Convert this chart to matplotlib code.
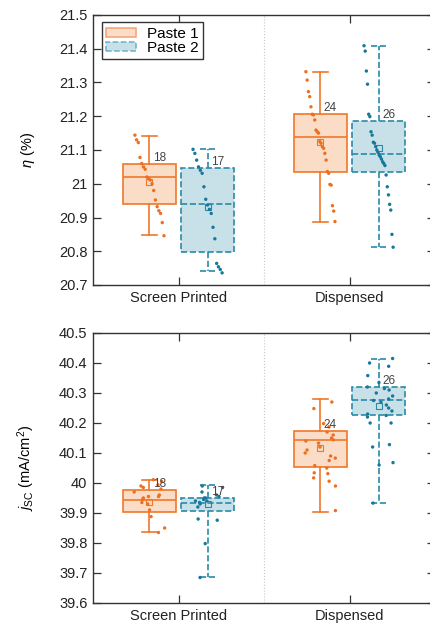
import numpy as np
import matplotlib.pyplot as plt
from matplotlib.patches import Patch

plt.rcParams['font.family'] = ['Liberation Sans', 'DejaVu Sans']
plt.rcParams['font.size'] = 10.5
plt.rcParams['mathtext.fontset'] = 'custom'
plt.rcParams['mathtext.rm'] = 'Liberation Sans'
plt.rcParams['mathtext.it'] = 'Liberation Sans:italic'

categories = ['Screen Printed', 'Dispensed']
series = ['Paste 1', 'Paste 2']

# efficiency (%) - single cell values
eta_sp_p1 = [21.144, 21.13, 21.122, 21.078, 21.06, 21.05, 21.043, 21.02, 21.015, 21.011,
             21.0, 20.98, 20.952, 20.932, 20.92, 20.912, 20.885, 20.846]
eta_sp_p2 = [21.102, 21.09, 21.07, 21.05, 21.04, 21.031, 20.991, 20.954, 20.937, 20.924,
             20.912, 20.871, 20.837, 20.764, 20.754, 20.746, 20.736]
eta_d_p1 = [21.332, 21.307, 21.273, 21.258, 21.228, 21.206, 21.204, 21.189, 21.159, 21.154,
            21.15, 21.125, 21.12, 21.11, 21.105, 21.09, 21.07, 21.036, 21.031, 20.998,
            20.996, 20.935, 20.919, 20.888]
eta_d_p2 = [21.409, 21.393, 21.334, 21.295, 21.206, 21.199, 21.154, 21.144, 21.123, 21.12,
            21.11, 21.1, 21.093, 21.085, 21.08, 21.073, 21.065, 21.06, 21.054, 21.026,
            20.991, 20.967, 20.939, 20.922, 20.85, 20.812]

# box summaries: whislo, q1, median, q3, whishi, mean
eta_stats = {
    ('Screen Printed', 'Paste 1'): [20.848, 20.94, 21.02, 21.058, 21.14, 21.005],
    ('Screen Printed', 'Paste 2'): [20.742, 20.799, 20.94, 21.048, 21.102, 20.93],
    ('Dispensed', 'Paste 1'): [20.888, 21.034, 21.138, 21.206, 21.332, 21.125],
    ('Dispensed', 'Paste 2'): [20.812, 21.034, 21.088, 21.186, 21.409, 21.105],
}

# short-circuit current density (mA/cm2)
jsc_sp_p1 = [40.011, 40.005, 39.994, 39.99, 39.985, 39.98, 39.97, 39.96, 39.955, 39.955,
             39.95, 39.945, 39.935, 39.93, 39.91, 39.888, 39.85, 39.835]
jsc_sp_p2 = [39.99, 39.985, 39.97, 39.96, 39.955, 39.95, 39.95, 39.945, 39.94, 39.94,
             39.935, 39.93, 39.92, 39.88, 39.876, 39.798, 39.685]
jsc_d_p1 = [40.27, 40.248, 40.198, 40.187, 40.17, 40.16, 40.15, 40.144, 40.14, 40.133,
            40.12, 40.11, 40.1, 40.09, 40.083, 40.075, 40.058, 40.05, 40.034, 40.031,
            40.017, 40.006, 39.99, 39.908]
jsc_d_p2 = [40.415, 40.4, 40.389, 40.358, 40.335, 40.32, 40.315, 40.31, 40.3, 40.29,
            40.28, 40.275, 40.27, 40.26, 40.25, 40.24, 40.23, 40.225, 40.22, 40.2,
            40.2, 40.128, 40.12, 40.068, 40.06, 39.933]

jsc_stats = {
    ('Screen Printed', 'Paste 1'): [39.837, 39.905, 39.944, 39.978, 40.011, 39.935],
    ('Screen Printed', 'Paste 2'): [39.685, 39.906, 39.932, 39.951, 39.994, 39.93],
    ('Dispensed', 'Paste 1'): [39.903, 40.053, 40.142, 40.172, 40.28, 40.117],
    ('Dispensed', 'Paste 2'): [39.933, 40.225, 40.278, 40.32, 40.413, 40.255],
}

eta_points = {('Screen Printed', 'Paste 1'): eta_sp_p1, ('Screen Printed', 'Paste 2'): eta_sp_p2,
              ('Dispensed', 'Paste 1'): eta_d_p1, ('Dispensed', 'Paste 2'): eta_d_p2}
jsc_points = {('Screen Printed', 'Paste 1'): jsc_sp_p1, ('Screen Printed', 'Paste 2'): jsc_sp_p2,
              ('Dispensed', 'Paste 1'): jsc_d_p1, ('Dispensed', 'Paste 2'): jsc_d_p2}

edge = {'Paste 1': '#f0782a', 'Paste 2': '#2a8aa6'}
fill = {'Paste 1': '#fbdcc6', 'Paste 2': '#c8e1e9'}
dot = {'Paste 1': '#ec7020', 'Paste 2': '#16789a'}
ls = {'Paste 1': '-', 'Paste 2': '--'}
offset = {'Paste 1': -0.17, 'Paste 2': 0.17}


def draw(ax, stats, points, ylim, yticks, yticklabels, ylabel, ranked):
    for i, cat in enumerate(categories):
        for s in series:
            lo, q1, med, q3, hi, mean = stats[(cat, s)]
            pos = i + 1 + offset[s]
            st = [dict(whislo=lo, q1=q1, med=med, q3=q3, whishi=hi, mean=mean, fliers=[])]
            lw = 1.2
            ax.bxp(st, positions=[pos], widths=0.31, patch_artist=True, showmeans=True,
                   boxprops=dict(facecolor=fill[s], edgecolor=edge[s], linewidth=lw, linestyle=ls[s]),
                   medianprops=dict(color=edge[s], linewidth=lw, linestyle=ls[s]),
                   whiskerprops=dict(color=edge[s], linewidth=lw, linestyle=ls[s]),
                   capprops=dict(color=edge[s], linewidth=lw, linestyle=ls[s]),
                   capwidths=0.09,
                   meanprops=dict(marker='s', markerfacecolor='none', markeredgecolor=edge[s],
                                  markersize=4, markeredgewidth=0.8),
                   zorder=2)
            vals = np.array(points[(cat, s)])
            n = len(vals)
            if ranked:
                order = np.argsort(-vals)
                jit = np.empty(n)
                jit[order] = np.linspace(-0.085, 0.085, n)
            else:
                rng = np.random.default_rng(7 + i * 2 + (s == 'Paste 2'))
                jit = rng.uniform(-0.09, 0.09, n)
            ax.scatter(pos + jit, vals, s=6, color=dot[s], edgecolors='none', zorder=3)
            ax.text(pos + 0.02, q3, str(n), ha='left', va='bottom', fontsize=8.5, color='#444444', zorder=4)
    ax.axvline(1.5, color='#c8c8c8', linestyle=':', linewidth=0.8, zorder=0)
    ax.set_xlim(0.5, 2.5)
    ax.set_ylim(*ylim)
    ax.set_xticks([1, 2])
    ax.set_xticklabels(categories)
    ax.set_yticks(yticks)
    ax.set_yticklabels(yticklabels)
    ax.set_ylabel(ylabel)
    ax.yaxis.set_label_coords(-0.165, 0.5)
    ax.tick_params(direction='in', length=6, width=0.9, top=True, right=True, colors='#333333',
                   labelcolor='#222222', labelsize=10.5, pad=4)
    for sp in ax.spines.values():
        sp.set_color('#333333')
        sp.set_linewidth(1.0)


fig = plt.figure(figsize=(4.3, 6.25), dpi=100)
ax1 = fig.add_axes([93 / 430, 1 - 285 / 625, 342 / 430, 270 / 625])
ax2 = fig.add_axes([93 / 430, 1 - 603 / 625, 342 / 430, 270 / 625])

eta_ticks = [20.7, 20.8, 20.9, 21.0, 21.1, 21.2, 21.3, 21.4, 21.5]
eta_labels = ['20.7', '20.8', '20.9', '21', '21.1', '21.2', '21.3', '21.4', '21.5']
jsc_ticks = [39.6, 39.7, 39.8, 39.9, 40.0, 40.1, 40.2, 40.3, 40.4, 40.5]
jsc_labels = ['39.6', '39.7', '39.8', '39.9', '40', '40.1', '40.2', '40.3', '40.4', '40.5']

draw(ax1, eta_stats, eta_points, (20.7, 21.5), eta_ticks, eta_labels, r'$\eta$ (%)', True)
draw(ax2, jsc_stats, jsc_points, (39.6, 40.5), jsc_ticks, jsc_labels,
     r'$j_{\mathrm{SC}}$ (mA/cm$^2$)', False)

handles = [Patch(facecolor=fill['Paste 1'], edgecolor='#f5a070', linestyle='-', linewidth=1.1),
           Patch(facecolor=fill['Paste 2'], edgecolor='#6fb0c4', linestyle='--', linewidth=1.1)]
leg = ax1.legend(handles, series, loc='upper left', bbox_to_anchor=(0.026, 0.974), fontsize=11,
                 fancybox=False, framealpha=1, borderpad=0.3, labelspacing=0.0,
                 handlelength=1.9, handleheight=0.55, handletextpad=0.75, borderaxespad=0)
leg.get_frame().set_edgecolor('#333333')
leg.get_frame().set_linewidth(1.0)

fig.savefig('out.png', dpi=100)
